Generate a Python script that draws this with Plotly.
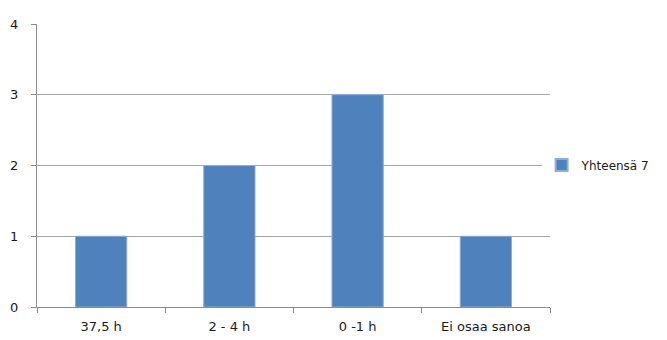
import plotly.graph_objects as go

categories = ["37,5 h", "2 - 4 h", "0 -1 h", "Ei osaa sanoa"]
values = [1, 2, 3, 1]
series_name = "Yhteensä 7"
y_ticks = [0, 1, 2, 3, 4]

fig = go.Figure(
    go.Bar(
        x=categories,
        y=values,
        name=series_name,
        marker=dict(color="#4F81BD", line=dict(color="#8EAEDA", width=1)),
        showlegend=True,
    )
)

axis_color = "#8C8C8C"
font = dict(family="DejaVu Sans", size=13, color="#1A1A1A")

fig.update_layout(
    width=667,
    height=340,
    margin=dict(l=37, r=117, t=24, b=33, autoexpand=False),
    paper_bgcolor="white",
    plot_bgcolor="white",
    font=font,
    bargap=0.6,
    legend=dict(
        xref="container",
        yref="container",
        x=0.812,
        y=0.515,
        xanchor="left",
        yanchor="middle",
        font=dict(family="DejaVu Sans", size=12, color="#1A1A1A"),
        itemwidth=30,
        itemsizing="constant",
    ),
    xaxis=dict(
        showline=True,
        linecolor=axis_color,
        linewidth=1,
        ticks="outside",
        tickson="boundaries",
        ticklen=5,
        tickcolor=axis_color,
        showgrid=False,
        ticklabelstandoff=7,
    ),
    yaxis=dict(
        range=[0, 4],
        tickvals=y_ticks,
        showline=True,
        linecolor=axis_color,
        linewidth=1,
        ticks="outside",
        ticklen=5,
        tickcolor=axis_color,
        showgrid=True,
        gridcolor="#A6A6A6",
        gridwidth=1,
        zeroline=False,
        ticklabelstandoff=10,
    ),
)

fig.write_html("out.html")
